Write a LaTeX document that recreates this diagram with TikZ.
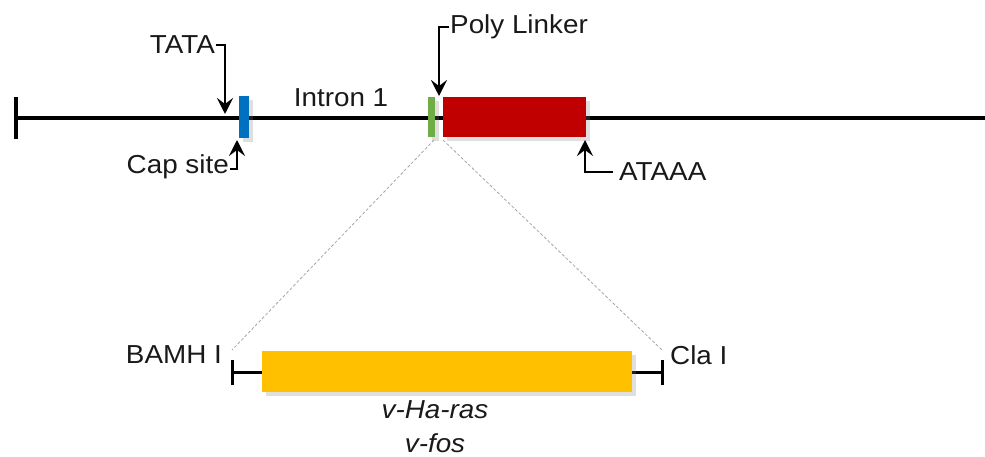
\documentclass[tikz,border=0pt]{standalone}
\usepackage{fontspec}
\setmainfont{Liberation Sans}[FakeStretch=1.07]
\usetikzlibrary{arrows.meta,shadows}
\definecolor{capblue}{HTML}{0070C0}
\definecolor{linkgreen}{HTML}{70AD47}
\definecolor{exonred}{HTML}{C00000}
\definecolor{oncoyellow}{HTML}{FFC000}
\begin{document}
\begin{tikzpicture}[x=1pt,y=-1pt,
  lbl/.style={font=\fontsize{26}{30}\selectfont, inner sep=0pt, text=black!90},
  gbox/.style={draw=none, inner sep=0pt, minimum width=#1, drop shadow={opacity=0.25, shadow xshift=4pt, shadow yshift=-4pt}},
  gline/.style={line width=3.5pt, black},
  pointer/.style={line width=2.4pt, -{Stealth[length=16pt,width=16pt,inset=6pt]}},
  guide/.style={draw=gray!70, line width=0.8pt, dash pattern=on 3pt off 2pt}]
\useasboundingbox (0,0) rectangle (985,457);
% main line
\coordinate (L) at (16,118);
\coordinate (R) at (987,118);
\draw[gline] (L) -- (R);
\draw[gline] (16,97) -- (16,139);
\draw[gline] (987,97) -- (987,139);
% boxes
\node[gbox=10pt, fill=capblue, minimum height=42pt] (cap) at (244,117) {};
\node[gbox=7pt, fill=linkgreen, minimum height=40pt] (link) at (431.5,117) {};
\node[gbox=143pt, fill=exonred, minimum height=40pt] (exon) at (514.5,117) {};
% labels
\node[lbl, anchor=east] (tata) at (215,45) {TATA};
\node[lbl, anchor=east] (capsite) at (229,167) {Cap site};
\node[lbl, anchor=west] (poly) at (450,27) {Poly Linker};
\node[lbl, anchor=west] (ataaa) at (619,172) {ATAAA};
\node[lbl] (intron) at (341,98) {Intron 1};
% pointer tips
\coordinate (tataTip) at (225,114);
\coordinate (capTip) at (237,140);
\coordinate (polyTip) at (439,96);
\coordinate (ataaaTip) at (585,140);
\draw[pointer] ([xshift=1pt]tata.east) -| (tataTip);
\draw[pointer] ([xshift=1pt,yshift=-2pt]capsite.east) -| (capTip);
\draw[pointer] ([xshift=-1pt]poly.west) -| (polyTip);
\draw[pointer] ([xshift=-6pt]ataaa.west) -| (ataaaTip);
% insert
\coordinate (bamEnd) at (232,372);
\coordinate (claEnd) at (662,372);
\draw[gline, line width=3pt] (bamEnd) -- (claEnd);
\draw[gline, line width=3pt] (232,360) -- (232,385);
\draw[gline, line width=3pt] (662,360) -- (662,385);
\node[gbox=370pt, fill=oncoyellow, minimum height=41pt] (onco) at (447,371.5) {};
\node[lbl, anchor=east] (bamh) at (222,355) {BAMH I};
\node[lbl, anchor=west] (cla) at (670,355) {Cla I};
\node[lbl, font=\fontsize{26}{30}\selectfont\itshape] (ras) at (435,410) {v-Ha-ras};
\node[lbl, font=\fontsize{26}{30}\selectfont\itshape] (fos) at (435,443) {v-fos};
% guides
\coordinate (g1) at (434,140);
\coordinate (g2) at (443,140);
\coordinate (b1) at (232,350);
\coordinate (b2) at (662,350);
\draw[guide] (g1) -- (b1);
\draw[guide] (g2) -- (b2);
\end{tikzpicture}
\end{document}
